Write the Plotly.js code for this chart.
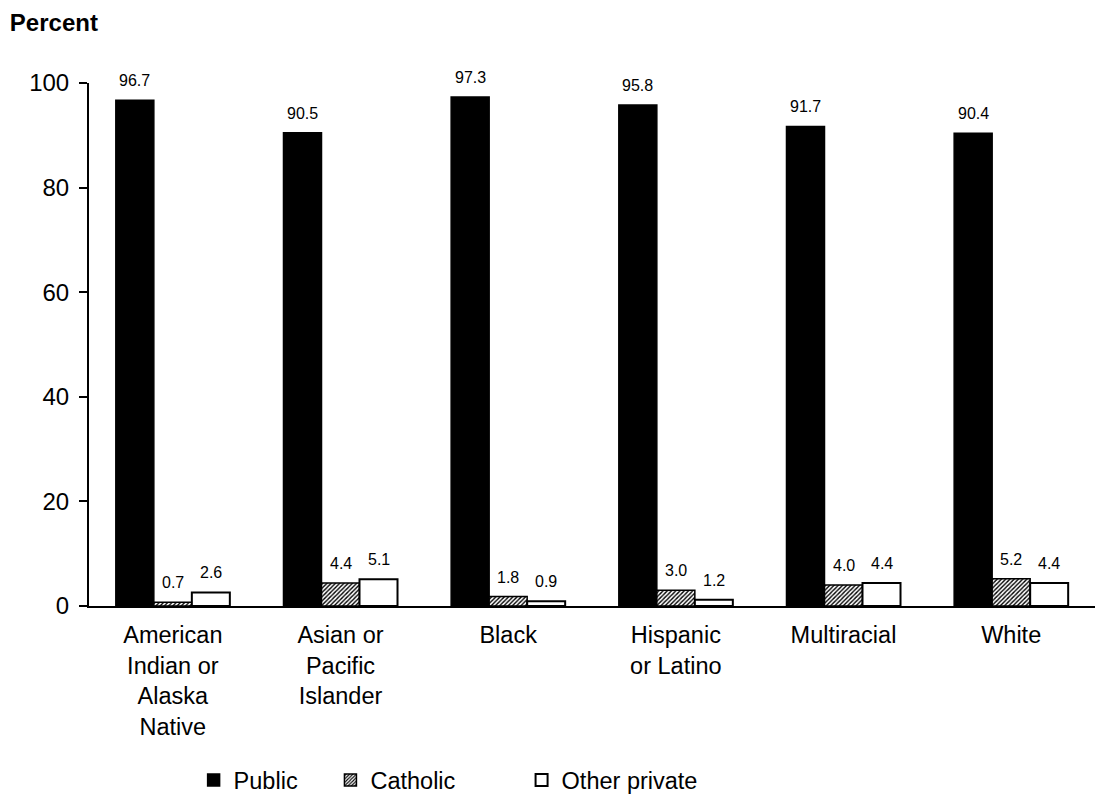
<!DOCTYPE html>
<html>
<head>
<meta charset="utf-8">
<script src="https://cdn.plot.ly/plotly-3.0.1.min.js"></script>
<style>html,body{margin:0;padding:0;background:#fff;}#chart{width:1096px;height:797px;}</style>
</head>
<body>
<div id="chart"></div>
<script>
const categories = ["American<br>Indian or<br>Alaska<br>Native", "Asian or<br>Pacific<br>Islander", "Black", "Hispanic<br>or Latino", "Multiracial", "White"];
const publicVals = [96.7, 90.5, 97.3, 95.8, 91.7, 90.4];
const catholicVals = [0.7, 4.4, 1.8, 3.0, 4.0, 5.2];
const otherVals = [2.6, 5.1, 0.9, 1.2, 4.4, 4.4];
const seriesNames = ["Public", "Catholic", "Other private"];
const yTicks = [0, 20, 40, 60, 80, 100];

const FONT = "Liberation Sans, Arial, sans-serif";

const traces = [
  {type: "bar", name: seriesNames[0], x: categories, y: publicVals, legend: "legend",
   marker: {color: "#000000", line: {color: "#000000", width: 1.5}}, hoverinfo: "y"},
  {type: "bar", name: seriesNames[1], x: categories, y: catholicVals, legend: "legend2",
   marker: {color: "#ffffff", line: {color: "#000000", width: 1.5},
            pattern: {shape: "/", fgcolor: "#000000", bgcolor: "#ffffff", size: 3, solidity: 0.45}}, hoverinfo: "y"},
  {type: "bar", name: seriesNames[2], x: categories, y: otherVals, legend: "legend3",
   marker: {color: "#ffffff", line: {color: "#000000", width: 2}}, hoverinfo: "y"}
];

const seriesVals = [publicVals, catholicVals, otherVals];
const shifts = [-38, 0, 38];
const annotations = [];
seriesVals.forEach((vals, s) => {
  vals.forEach((v, i) => {
    annotations.push({
      x: categories[i], y: v, xref: "x", yref: "y", text: v.toFixed(1),
      showarrow: false, yanchor: "bottom", xanchor: "center",
      xshift: shifts[s], yshift: 9, font: {family: FONT, size: 16, color: "#000"}
    });
  });
});

const legendBase = {orientation: "h", yref: "container", y: 0.021, yanchor: "middle", xanchor: "left",
  font: {family: FONT, size: 23.5, color: "#000"}, bgcolor: "rgba(0,0,0,0)", itemwidth: 30};

const layout = {
  width: 1096, height: 797,
  margin: {l: 89, r: 1, t: 83, b: 191},
  paper_bgcolor: "#ffffff", plot_bgcolor: "#ffffff",
  font: {family: FONT, color: "#000"},
  title: {text: "<b>Percent</b>", xref: "container", yref: "container", x: 0.009, xanchor: "left",
          y: 0.972, yanchor: "middle", font: {family: FONT, size: 24, color: "#000"}},
  barmode: "group", bargap: 0.32, bargroupgap: 0,
  xaxis: {type: "category", showline: true, linecolor: "#000", linewidth: 2, ticks: "",
          showgrid: false, zeroline: false, ticklabelstandoff: 7, automargin: false,
          tickfont: {family: FONT, size: 23.5, color: "#000"}, fixedrange: true},
  yaxis: {range: [0, 100], tickvals: yTicks, ticktext: yTicks.map(String), showline: true, linecolor: "#000", linewidth: 2,
          ticks: "outside", ticklen: 8, tickwidth: 2, tickcolor: "#000", showgrid: false, zeroline: false,
          ticklabelstandoff: 5, automargin: false,
          tickfont: {family: FONT, size: 24, color: "#000"}, fixedrange: true},
  showlegend: true,
  legend: Object.assign({}, legendBase, {x: 0.104}),
  legend2: Object.assign({}, legendBase, {x: 0.240}),
  legend3: Object.assign({}, legendBase, {x: 0.430}),
  annotations: annotations
};

Plotly.newPlot("chart", traces, layout, {displayModeBar: false, staticPlot: true});
</script>
</body>
</html>
